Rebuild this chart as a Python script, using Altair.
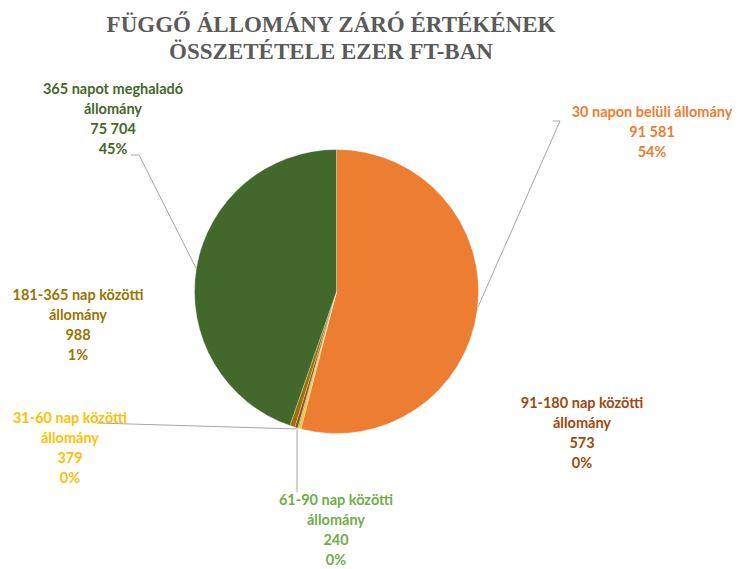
import altair as alt
import pandas as pd

# ---- data ----
categories = [
    "30 napon belüli állomány",
    "31-60 nap közötti állomány",
    "61-90 nap közötti állomány",
    "91-180 nap közötti állomány",
    "181-365 nap közötti állomány",
    "365 napot meghaladó állomány",
]
label_lines = [
    "30 napon belüli állomány",
    "31-60 nap közötti\nállomány",
    "61-90 nap közötti\nállomány",
    "91-180 nap közötti\nállomány",
    "181-365 nap közötti\nállomány",
    "365 napot meghaladó\nállomány",
]
values = [91581, 379, 240, 573, 988, 75704]
colors = ["#ED7D31", "#FFC000", "#70AD47", "#9E480E", "#997300", "#43682B"]
title_lines = ["FÜGGŐ ÁLLOMÁNY ZÁRÓ ÉRTÉKÉNEK", "ÖSSZETÉTELE EZER FT-BAN"]

# ---- layout (chart pixel coordinates) ----
pie_cx, pie_cy, pie_r = 328.5, 283.5, 142
label_pos = [(644, 98), (62, 404), (328, 486), (574, 389), (70, 281), (105, 75)]
leader_lines = [
    [(545, 113), (552, 113), (470, 299)],
    [(89, 415), (290, 421)],
    [(289, 422), (289, 484)],
    [(123, 147), (131, 147), (188, 260)],
]

total = sum(values)
texts = []
for lab, v in zip(label_lines, values):
    num = f"{v:,}".replace(",", " ")
    pct = f"{round(v / total * 100)}%"
    texts.append(f"{lab}\n{num}\n{pct}")

df = pd.DataFrame({
    "category": categories,
    "value": values,
    "idx": list(range(len(values))),
    "text": texts,
    "lx": [p[0] for p in label_pos],
    "ly": [p[1] for p in label_pos],
})

color_scale = alt.Scale(domain=categories, range=colors)

pie = alt.Chart(df).mark_arc(outerRadius=pie_r, stroke="white", strokeWidth=0.3).encode(
    theta=alt.Theta("value:Q", stack=True),
    color=alt.Color("category:N", scale=color_scale, legend=None),
    order=alt.Order("idx:Q"),
    x=alt.value(pie_cx),
    y=alt.value(pie_cy),
)

labels = alt.Chart(df).mark_text(
    font="Lato", fontSize=14.5, fontWeight="bold", lineBreak="\n", lineHeight=20,
    align="center", baseline="top",
).encode(
    x=alt.X("lx:Q", scale=None),
    y=alt.Y("ly:Q", scale=None),
    text="text:N",
    color=alt.Color("category:N", scale=color_scale, legend=None),
)

line_rows = []
for i, pts in enumerate(leader_lines):
    for j, (px, py) in enumerate(pts):
        line_rows.append({"line": i, "o": j, "px": px, "py": py})
ldf = pd.DataFrame(line_rows)
leaders = alt.Chart(ldf).mark_line(color="#A6A6A6", strokeWidth=1).encode(
    x=alt.X("px:Q", scale=None),
    y=alt.Y("py:Q", scale=None),
    detail="line:N",
    order="o:Q",
)

tdf = pd.DataFrame({"t": title_lines, "ty": [17, 44]})
title = alt.Chart(tdf).mark_text(
    font="Liberation Serif", fontSize=23, fontWeight="bold", color="#5A5A5A",
    align="center", baseline="middle",
).encode(
    x=alt.value(323),
    y=alt.Y("ty:Q", scale=None),
    text="t:N",
)

chart = alt.layer(leaders, pie, labels, title).properties(
    width=724, height=561, autosize=alt.AutoSizeParams(type="none"), padding=0,
).configure_view(stroke=None)

chart.save("out.html", embed_options={"renderer": "svg", "actions": False})
